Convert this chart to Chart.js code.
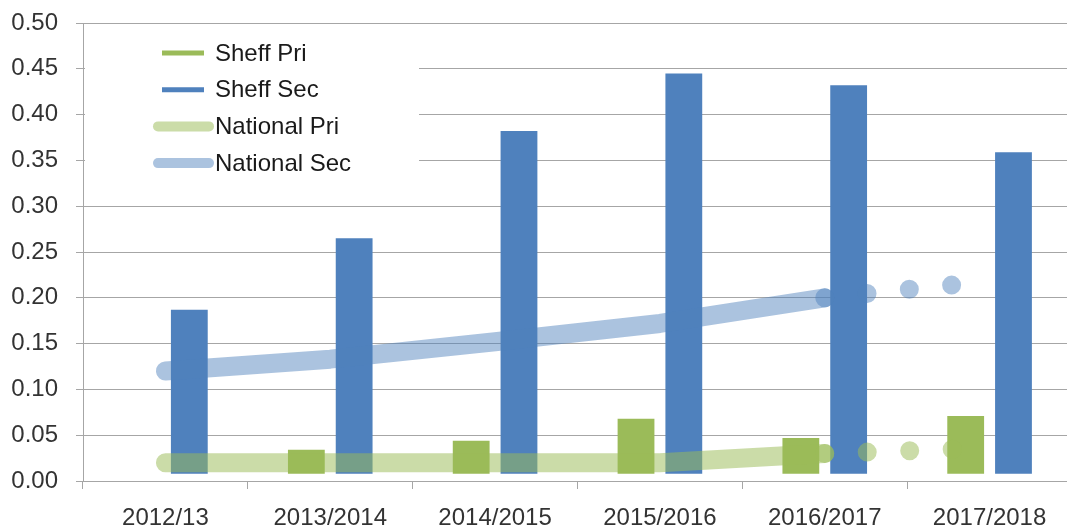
<!DOCTYPE html>
<html>
<head>
<meta charset="utf-8">
<script src="https://cdn.jsdelivr.net/npm/chart.js@4"></script>
<style>
  html,body{margin:0;padding:0;background:#fff;overflow:hidden;width:1067px;height:529px}
  #wrap{width:1080px;height:529px}
</style>
</head>
<body>
<div id="wrap"><canvas id="c" width="1080" height="529"></canvas></div>
<script>
/* ------------ data ------------ */
const YEARS        = ['2012/13','2013/2014','2014/2015','2015/2016','2016/2017','2017/2018'];
const SHEFF_PRI    = [null, 0.034, 0.044, 0.068, 0.047, 0.071];
const SHEFF_SEC    = [0.187, 0.265, 0.382, 0.445, 0.432, 0.359];
const NAT_PRI      = [0.020, 0.020, 0.020, 0.020, 0.030, 0.036];
const NAT_SEC      = [0.120, 0.133, 0.152, 0.172, 0.200, 0.218];
const Y_TICKS      = [0,0.05,0.10,0.15,0.20,0.25,0.30,0.35,0.40,0.45,0.50];
const BAR_BASE     = 0.008;

/* ------------ style ------------ */
const GREEN='#9bbb59', BLUE='#4f81bd';
const GREEN_A='rgba(155,187,89,0.52)', BLUE_A='rgba(79,129,189,0.48)';
const GRID='#a6a6a6', TXT='#333333';
const FONT={family:'"Liberation Sans", Arial, sans-serif',size:24};

// dotted tail from the last actual year onwards
const tail = ctx => ctx.p0DataIndex>=4 ? [0,42.5] : undefined;

/* ------------ legend (inside plot, white box) ------------ */
const boxLegend={
  id:'boxLegend',
  afterDraw(chart){
    const c=chart.ctx;
    c.save();
    c.fillStyle='#fff';c.fillRect(85,28,334,166);
    c.font=`${FONT.size}px ${FONT.family}`;c.textBaseline='middle';c.fillStyle='#1a1a1a';
    chart.data.datasets.forEach((d,i)=>{
      const y=53+i*36.7;
      c.beginPath();
      if(d.type==='bar'){c.lineWidth=5;c.lineCap='butt';c.strokeStyle=d.backgroundColor;c.moveTo(162,y);c.lineTo(204,y);}
      else{c.lineWidth=10;c.lineCap='round';c.strokeStyle=d.borderColor;c.moveTo(158,y);c.lineTo(209,y);}
      c.stroke();
      c.fillText(d.label,215,y+1);
    });
    c.restore();
  }
};

/* ------------ chart ------------ */
new Chart(document.getElementById('c'),{
  data:{
    labels:YEARS,
    datasets:[
      {type:'bar',label:'Sheff Pri',data:SHEFF_PRI,backgroundColor:GREEN,base:BAR_BASE,order:1,
       categoryPercentage:0.58,barPercentage:0.77},
      {type:'bar',label:'Sheff Sec',data:SHEFF_SEC,backgroundColor:BLUE,base:BAR_BASE,order:1,
       categoryPercentage:0.58,barPercentage:0.77},
      {type:'line',label:'National Pri',data:NAT_PRI,borderColor:GREEN_A,borderWidth:19,
       borderCapStyle:'round',borderJoinStyle:'round',pointRadius:0,tension:0,order:0,
       segment:{borderDash:tail}},
      {type:'line',label:'National Sec',data:NAT_SEC,borderColor:BLUE_A,borderWidth:19,
       borderCapStyle:'round',borderJoinStyle:'round',pointRadius:0,tension:0,order:0,
       segment:{borderDash:tail}}
    ]
  },
  options:{
    responsive:false,animation:false,
    layout:{padding:{top:23,right:8,left:0,bottom:0}},
    plugins:{legend:{display:false},tooltip:{enabled:false}},
    scales:{
      x:{
        offset:true,
        grid:{offset:true,drawOnChartArea:false,tickLength:8,color:GRID},
        border:{color:GRID},
        ticks:{font:FONT,color:TXT,padding:15,maxRotation:0,autoSkip:false},
        afterFit:s=>{s.height=48;}
      },
      y:{
        min:0,max:0.5,
        afterBuildTicks:s=>{s.ticks=Y_TICKS.map(v=>({value:v}));},
        grid:{tickLength:7,color:GRID},
        border:{color:GRID},
        // small lineHeight keeps the tick padding from pushing the plot top down
        ticks:{font:{...FONT,lineHeight:0.3},color:TXT,padding:18,callback:v=>v.toFixed(2)},
        afterFit:s=>{s.width=83;}
      }
    }
  },
  plugins:[boxLegend]
});
</script>
</body>
</html>
